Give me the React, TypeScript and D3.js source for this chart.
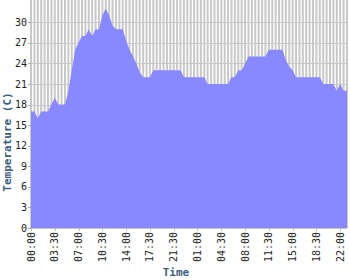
import React from "react";
import * as d3 from "d3";

const temps: number[] = [
  17, 17, 16, 17, 17, 17, 18, 19, 18, 18,
  18, 20, 23, 26, 27, 28, 28, 29, 28, 29,
  29, 31, 32, 31, 29.5, 29, 29, 29, 27.3, 26,
  25, 24, 22.7, 22, 22, 22, 23, 23, 23, 23,
  23, 23, 23, 23, 23, 22, 22, 22, 22, 22,
  22, 22, 21, 21, 21, 21, 21, 21, 21, 22,
  22, 23, 23, 24, 25, 25, 25, 25, 25, 25,
  26, 26, 26, 26, 26, 24.5, 23.5, 23, 22, 22,
  22, 22, 22, 22, 22, 22, 21, 21, 21, 21,
  20, 21, 20, 20,
];
const tickLabels: string[] = [
  "00:00", "03:30", "07:00", "10:30", "14:00", "17:30", "21:30",
  "01:00", "04:30", "08:00", "11:30", "15:00", "18:30", "22:00",
];
const tickEvery = 7;
const yTicks: number[] = [0, 3, 6, 9, 12, 15, 18, 21, 24, 27, 30];

export default function App() {
  const W = 350, H = 280;
  const left = 31, right = 347, top = 0, bottom = 228;
  const idx = temps.map((_, i) => i);
  const x = d3.scaleLinear().domain([0, temps.length - 1]).range([left, right]);
  const y = d3.scaleLinear().domain([0, 33.25]).range([bottom, top]);
  const area = d3.area<number>().x((_, i) => x(i)).y0(bottom).y1((d) => y(d));
  const grid = "#c8c8c8";
  const font = "'DejaVu Sans Mono', monospace";
  return (
    <svg width={W} height={H} style={{ position: "absolute", left: 0, top: 0, background: "#fff" }}>
      <rect x={left} y={top} width={right - left} height={bottom - top} fill="#fff" />
      {idx.map((i) => (
        <line key={"v" + i} x1={x(i)} x2={x(i)} y1={top} y2={bottom} stroke={grid} strokeWidth={2} />
      ))}
      {yTicks.map((t) => (
        <line key={"h" + t} x1={left} x2={right} y1={Math.round(y(t)) + 0.5} y2={Math.round(y(t)) + 0.5} stroke={grid} strokeWidth={1} />
      ))}
      <path d={area(temps) || ""} fill="#8888ff" />
      {yTicks.map((t) => (
        <g key={"yt" + t}>
          <line x1={left - 3} x2={left} y1={Math.round(y(t)) + 0.5} y2={Math.round(y(t)) + 0.5} stroke="#aaa" />
          <text x={left - 4} y={y(t)} dy="0.35em" textAnchor="end" fontFamily={font} fontSize={10} fill="#222">{t}</text>
        </g>
      ))}
      {tickLabels.map((lab, k) => {
        const xx = x(k * tickEvery);
        return (
          <g key={"xt" + k}>
            <line x1={Math.round(xx) + 0.5} x2={Math.round(xx) + 0.5} y1={bottom} y2={bottom + 3} stroke="#bbb" />
            <text transform={`translate(${xx},${bottom + 4}) rotate(-90)`} dy="0.35em" textAnchor="end" fontFamily={font} fontSize={10} fill="#222">{lab}</text>
          </g>
        );
      })}
      <text x={176} y={276} textAnchor="middle" fontFamily={font} fontSize={11} fontWeight="bold" fill="#3d5f80">Time</text>
      <text transform={`translate(11,142) rotate(-90)`} textAnchor="middle" fontFamily={font} fontSize={11} fontWeight="bold" fill="#3d5f80">Temperature (C)</text>
    </svg>
  );
}
